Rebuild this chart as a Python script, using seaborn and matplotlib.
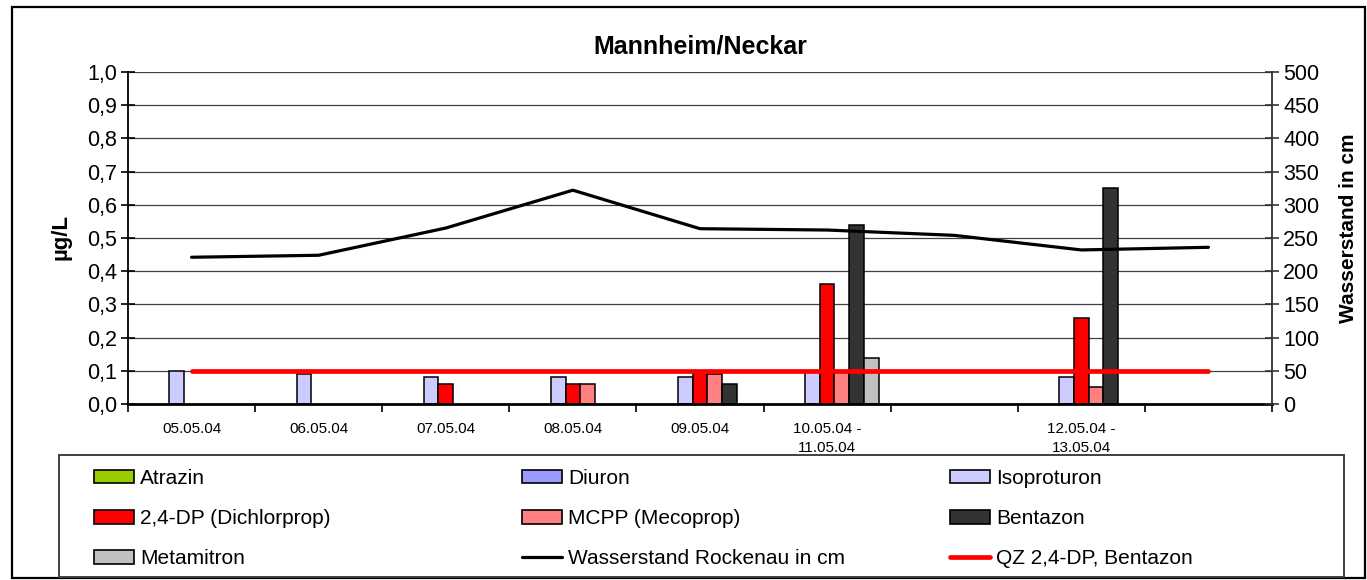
import numpy as np
import pandas as pd
import matplotlib
matplotlib.use("Agg")
import matplotlib.pyplot as plt
import seaborn as sns
from matplotlib.patches import Patch, Rectangle
from matplotlib.lines import Line2D
from matplotlib.ticker import FixedLocator, FuncFormatter

# ---------------- data ----------------
categories = ["05.05.04", "06.05.04", "07.05.04", "08.05.04", "09.05.04",
              "10.05.04 -\n11.05.04", " ", "12.05.04 -\n13.05.04", "  "]

series_names = ["Atrazin", "Diuron", "Isoproturon", "2,4-DP (Dichlorprop)",
                "MCPP (Mecoprop)", "Bentazon", "Metamitron"]

atrazin     = [None, None, None, None, None, None, None, None, None]
diuron      = [None, None, None, None, None, None, None, None, None]
isoproturon = [0.10, 0.09, 0.08, 0.08, 0.08, 0.10, None, 0.08, None]
dichlorprop = [None, None, 0.06, 0.06, 0.10, 0.36, None, 0.26, None]
mecoprop    = [None, None, None, 0.06, 0.09, 0.10, None, 0.05, None]
bentazon    = [None, None, None, None, 0.06, 0.54, None, 0.65, None]
metamitron  = [None, None, None, None, None, 0.14, None, None, None]

wasserstand = [221, 224, 265, 322, 264, 262, 254, 232, 236]
qz_value = [0.1, 0.1, 0.1, 0.1, 0.1, 0.1, 0.1, 0.1, 0.1]

line_name = "Wasserstand Rockenau in cm"
qz_name = "QZ 2,4-DP, Bentazon"

colors = {
    "Atrazin": "#99CC00",
    "Diuron": "#9999FF",
    "Isoproturon": "#CCCCFF",
    "2,4-DP (Dichlorprop)": "#FF0000",
    "MCPP (Mecoprop)": "#FF8080",
    "Bentazon": "#333333",
    "Metamitron": "#C0C0C0",
}

left_ticks = [0.0, 0.1, 0.2, 0.3, 0.4, 0.5, 0.6, 0.7, 0.8, 0.9, 1.0]
right_ticks = [0, 50, 100, 150, 200, 250, 300, 350, 400, 450, 500]

# ---------------- long table ----------------
values = [atrazin, diuron, isoproturon, dichlorprop, mecoprop, bentazon, metamitron]
rows = []
for name, vals in zip(series_names, values):
    for cat, v in zip(categories, vals):
        if v is not None:
            rows.append({"Datum": cat, "Stoff": name, "Wert": v})
df = pd.DataFrame(rows)

# ---------------- style ----------------
sns.set_style("white")
plt.rcParams["font.family"] = ["Liberation Sans", "DejaVu Sans"]
plt.rcParams["text.color"] = "black"
plt.rcParams["axes.labelcolor"] = "black"
plt.rcParams["xtick.color"] = "black"
plt.rcParams["ytick.color"] = "black"

W, H = 1367, 580
fig = plt.figure(figsize=(W / 100, H / 100), dpi=100)
L, R, T, B = 128, 1272, 72, 404
ax = fig.add_axes([L / W, 1 - B / H, (R - L) / W, (B - T) / H])

sns.barplot(data=df, x="Datum", y="Wert", hue="Stoff", order=categories,
            hue_order=series_names, palette=colors, width=0.81, dodge=True,
            edgecolor="black", linewidth=1.1, errorbar=None, legend=False,
            saturation=1, ax=ax)

positions = np.arange(len(categories))
sns.lineplot(x=positions, y=qz_value, ax=ax, color="#FF0000", linewidth=3.4,
             solid_capstyle="round", zorder=3)

ax.set_xlim(-0.5, len(categories) - 0.5)
ax.set_ylim(0, 1.0)
ax.set_axisbelow(True)
ax.yaxis.grid(True, color="#404040", linewidth=0.9)
ax.xaxis.grid(False)
ax.yaxis.set_major_locator(FixedLocator(left_ticks))
ax.yaxis.set_major_formatter(FuncFormatter(lambda v, p: f"{v:.1f}".replace(".", ",")))
ax.tick_params(axis="y", which="major", direction="inout", length=10, width=1.2,
               color="black", labelcolor="black", labelsize=15.5, pad=3, left=True)

ax.set_xticks(positions)
ax.set_xticklabels(categories, fontsize=11, color="black")
for t in ax.get_xticklabels():
    t.set_linespacing(1.45)
ax.set_xticks(np.arange(-0.5, len(categories), 1.0), minor=True)
ax.tick_params(axis="x", which="major", length=0, pad=13)
ax.tick_params(axis="x", which="minor", direction="out", length=6, width=1.2,
               color="black", bottom=True)

for s in ["top", "right"]:
    ax.spines[s].set_visible(False)
ax.spines["left"].set_color("black")
ax.spines["left"].set_linewidth(1.3)
ax.spines["bottom"].set_color("black")
ax.spines["bottom"].set_linewidth(2.0)

ax.set_xlabel("")
ax.set_ylabel("µg/L", fontsize=16, fontweight="bold", va="center", color="black")
ax.yaxis.set_label_coords((61 - L) / (R - L), (B - 237) / (B - T))

ax.set_title("Mannheim/Neckar", fontsize=18, fontweight="bold", color="black",
             y=(B - 47) / (B - T), va="center", pad=0)

# secondary axis
ax2 = ax.twinx()
sns.lineplot(x=positions, y=wasserstand, ax=ax2, color="black", linewidth=2.3)
ax2.set_ylim(0, 500)
ax2.yaxis.set_major_locator(FixedLocator(right_ticks))
ax2.tick_params(axis="y", direction="inout", length=10, width=1.2, color="#333333",
                labelcolor="black", labelsize=15.5, pad=3)
ax2.grid(False)
for s in ["top", "left", "bottom"]:
    ax2.spines[s].set_visible(False)
ax2.spines["right"].set_color("#333333")
ax2.spines["right"].set_linewidth(1.3)
ax2.set_ylabel("Wasserstand in cm", fontsize=15, fontweight="bold", va="center",
               color="black")
ax2.yaxis.set_label_coords((1348 - L) / (R - L), (B - 228) / (B - T))

# ---------------- frames ----------------
fig.patches.append(Rectangle((12 / W, 2 / H), (1365 - 12) / W, (573 - 2) / H,
                             transform=fig.transFigure, fill=False,
                             edgecolor="black", linewidth=1.6))
fig.patches.append(Rectangle((59 / W, 3 / H), (1344 - 59) / W, (577 - 455) / H,
                             transform=fig.transFigure, fill=False,
                             edgecolor="#404040", linewidth=1.4))

# ---------------- legend ----------------
def bar_handle(name):
    return Patch(facecolor=colors[name], edgecolor="black", linewidth=1.2)

handles = {n: bar_handle(n) for n in series_names}
handles[line_name] = Line2D([], [], color="black", linewidth=2.3)
handles[qz_name] = Line2D([], [], color="#FF0000", linewidth=3.4)

columns = [
    ["Atrazin", "2,4-DP (Dichlorprop)", "Metamitron"],
    ["Diuron", "MCPP (Mecoprop)", line_name],
    ["Isoproturon", "Bentazon", qz_name],
]
col_x = [94, 522, 950]
fs = 15
for cx, names in zip(col_x, columns):
    leg = fig.legend([handles[n] for n in names], names, loc="upper left",
                     bbox_to_anchor=(cx / W, 1 - 469 / H), frameon=False,
                     fontsize=fs, borderpad=0, borderaxespad=0,
                     handlelength=1.92, handleheight=0.63, handletextpad=0.3,
                     labelspacing=1.02, labelcolor="black")

fig.savefig("out.png", dpi=100)
